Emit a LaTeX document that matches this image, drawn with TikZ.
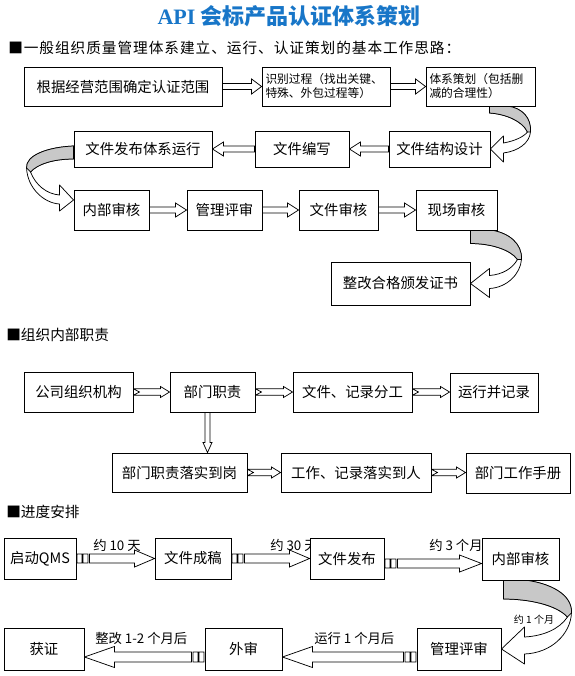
\documentclass[tikz,border=0pt]{standalone}
\usepackage{fontspec}
\setmainfont{Noto Sans CJK SC}
\newfontfamily\serifbf{Liberation Serif}
\usetikzlibrary{calc}
\pgfdeclarelayer{bg}
\pgfsetlayers{bg,main}
\definecolor{titleblue}{RGB}{24,118,200}
\definecolor{bandgrey}{RGB}{200,200,200}
\newcommand\pxfont[1]{\fontsize{#1}{#1}\selectfont}
\newcommand\mkbox[6]{\node[box, minimum width={(#4-#2)*0.75pt}, minimum height={(#5-#3)*0.75pt}] (#1) at ({(#2+#4)/2},{(#3+#5)/2}) {#6};}
% block arrow: from, to, half body, half head, head length, dir
\newcommand\blockarr[6]{%
\draw[arrline] let \p1=(#1), \p2=(#2) in
 (\x1,{\y1+#3*0.75pt}) -- ({\x2-(#6)*#5*0.75pt},{\y1+#3*0.75pt}) -- ({\x2-(#6)*#5*0.75pt},{\y1+#4*0.75pt}) -- (\x2,\y1) -- ({\x2-(#6)*#5*0.75pt},{\y1-#4*0.75pt}) -- ({\x2-(#6)*#5*0.75pt},{\y1-#3*0.75pt}) -- (\x1,{\y1-#3*0.75pt}) -- cycle;}
% notched arrow (rightwards)
\newcommand\notcharr[5]{%
\draw[arrline] let \p1=(#1), \p2=(#2) in
 (\x1,{\y1+#3*0.75pt}) -- ({\x2-#5*0.75pt},{\y1+#3*0.75pt}) -- ({\x2-#5*0.75pt},{\y1+#4*0.75pt}) -- (\x2,\y1) -- ({\x2-#5*0.75pt},{\y1-#4*0.75pt}) -- ({\x2-#5*0.75pt},{\y1-#3*0.75pt}) -- (\x1,{\y1-#3*0.75pt}) -- ({\x1+6*0.75pt},\y1) -- cycle;}
% striped arrow: from, to, half body, half head, head length, dir
\newcommand\stripearr[6]{%
\draw[arrline] let \p1=(#1), \p2=(#2) in
 ({\x1+(#6)*0.5*0.75pt},{\y1+#3*0.75pt}) rectangle ({\x1+(#6)*5.5*0.75pt},{\y1-#3*0.75pt})
 ({\x1+(#6)*6.5*0.75pt},{\y1+#3*0.75pt}) rectangle ({\x1+(#6)*11.5*0.75pt},{\y1-#3*0.75pt})
 ({\x1+(#6)*13*0.75pt},{\y1+#3*0.75pt}) -- ({\x2-(#6)*#5*0.75pt},{\y1+#3*0.75pt}) -- ({\x2-(#6)*#5*0.75pt},{\y1+#4*0.75pt}) -- (\x2,\y1) -- ({\x2-(#6)*#5*0.75pt},{\y1-#4*0.75pt}) -- ({\x2-(#6)*#5*0.75pt},{\y1-#3*0.75pt}) -- ({\x1+(#6)*13*0.75pt},{\y1-#3*0.75pt}) -- cycle;}
\begin{document}
\begin{tikzpicture}[x=0.75pt,y=-0.75pt,
  box/.style={draw, fill=white, line width=0.7pt, inner sep=0pt, font=\pxfont{10.8}},
  smallbox/.style={draw, fill=white, line width=0.7pt, inner xsep=2.6pt, inner ysep=0pt, align=left, font=\fontsize{8.8}{10.5}\selectfont},
  arrline/.style={draw, fill=white, line width=0.55pt, line join=miter},
  cband/.style={draw, fill=white, line width=0.55pt, line join=round},
  cgrey/.style={draw, fill=bandgrey, line width=0.55pt, line join=round},
  head/.style={anchor=west, inner sep=0pt, font=\pxfont{11}},
  lbl/.style={anchor=west, inner sep=0pt, font=\pxfont{10}}]
\useasboundingbox (0,0) rectangle (575,676);
\begin{pgfonlayer}{bg}
\fill[white] (0,0) rectangle (575,676);
\end{pgfonlayer}
% title and headings
\node[inner sep=0pt, text=titleblue, font=\bfseries\pxfont{16.5}] (title) at (289,16) {{\serifbf API} 会标产品认证体系策划};
\node[head, font=\pxfont{11}\addfontfeatures{LetterSpace=6.5}] (h1) at (8,48) {■一般组织质量管理体系建立、运行、认证策划的基本工作思路：};
\node[head] (h2) at (6,335) {■组织内部职责};
\node[head] (h3) at (6,512) {■进度安排};
% section 1
\mkbox{B1}{24}{67}{222}{106}{根据经营范围确定认证范围}
\node[smallbox, text width=90.75pt, minimum height=29.25pt] (B2) at (326,86.5) {识别过程（找出关键、\\特殊、外包过程等）};
\node[smallbox, text width=76.5pt, minimum height=29.25pt] (B3) at (480.5,86.5) {体系策划（包括删\\减的合理性）};
\mkbox{B4}{74}{131}{212}{167}{文件发布体系运行}
\mkbox{B5}{255}{131}{349}{167}{文件编写}
\mkbox{B6}{389}{131}{490}{167}{文件结构设计}
\mkbox{B7}{74}{190}{149}{230}{内部审核}
\mkbox{B8}{187}{190}{262}{230}{管理评审}
\mkbox{B9}{299}{190}{378}{230}{文件审核}
\mkbox{B10}{416}{190}{497}{230}{现场审核}
\mkbox{B11}{331}{262}{470}{305}{整改合格颁发证书}
% section 2
\mkbox{C1}{24}{372}{133}{412}{公司组织机构}
\mkbox{C2}{170}{372}{255}{412}{部门职责}
\mkbox{C3}{293}{372}{412}{412}{文件、记录分工}
\mkbox{C4}{450}{373}{538}{412}{运行并记录}
\mkbox{C5}{112}{453}{247}{492}{部门职责落实到岗}
\mkbox{C6}{281}{453}{431}{492}{工作、记录落实到人}
\mkbox{C7}{466}{453}{570}{493}{部门工作手册}
% section 3
\mkbox{D1}{4}{538}{76}{579}{启动QMS}
\mkbox{D2}{155}{538}{231}{579}{文件成稿}
\mkbox{D3}{310}{538}{384}{579}{文件发布}
\mkbox{D4}{482}{538}{559}{580}{内部审核}
\mkbox{D5}{417}{628}{501}{670}{管理评审}
\mkbox{D6}{205}{628}{282}{670}{外审}
\mkbox{D7}{4}{628}{84}{670}{获证}
\node[inner sep=0pt, font=\pxfont{7.5}] (L8) at (534,620) {约 1 个月};
\begin{pgfonlayer}{bg}
% section 1 arrows
\blockarr{B1.east}{B2.west}{3}{7.5}{10}{1}
\blockarr{B2.east}{B3.west}{3}{7.5}{10}{1}
\blockarr{B6.west}{B5.east}{3}{7}{11}{-1}
\blockarr{B5.west}{B4.east}{3}{7}{11}{-1}
\blockarr{B7.east}{B8.west}{3}{7}{11}{1}
\blockarr{B8.east}{B9.west}{3}{7}{11}{1}
\blockarr{B9.east}{B10.west}{3}{7}{11}{1}
\begin{scope}[shift={(B6.east)}]
\draw[cband] (-1,-43) -- (17,-43) .. controls (32,-41) and (41,-31) .. (40,-17) .. controls (39,-6) and (28,2) .. (13,4) -- (13,13) -- (0,0) -- (13,-13) -- (13,-6) .. controls (24,-8) and (33,-12) .. (37,-17) .. controls (32,-28) and (15,-35) .. (-1,-36) -- cycle;
\draw[cgrey] (-1,-43) -- (17,-43) .. controls (32,-41) and (41,-31) .. (40,-17) -- (37,-17) .. controls (32,-28) and (15,-35) .. (-1,-36) -- cycle;
\end{scope}
\begin{scope}[shift={($(B7.west)+(0,-10)$)}]
\draw[cband] (0,-54) .. controls (-25,-53) and (-48,-45) .. (-47,-32) .. controls (-46,-12) and (-30,3) .. (-14,4) -- (-14,11) -- (0,0) -- (-14,-15) -- (-14,-5) .. controls (-27,-6) and (-38,-15) .. (-43,-28) .. controls (-36,-36) and (-20,-41) .. (0,-41) -- cycle;
\draw[cgrey] (0,-54) .. controls (-25,-53) and (-48,-45) .. (-47,-32) -- (-43,-28) .. controls (-36,-36) and (-20,-41) .. (0,-41) -- cycle;
\end{scope}
\begin{scope}[shift={(B11.east)}]
\draw[cband] (0,-53.5) -- (20,-53.5) .. controls (38,-51) and (52,-40) .. (51,-24) .. controls (50,-10) and (37,4) .. (19,5) -- (19,14) -- (0,0) -- (19,-15) -- (19,-8) .. controls (32,-9) and (42,-15) .. (47,-24) .. controls (40,-34) and (20,-40) .. (0,-40) -- cycle;
\draw[cgrey] (0,-53.5) -- (20,-53.5) .. controls (38,-51) and (52,-40) .. (51,-24) -- (47,-24) .. controls (40,-34) and (20,-40) .. (0,-40) -- cycle;
\end{scope}
% section 2 arrows
\notcharr{C1.east}{C2.west}{3.2}{5.5}{9}
\notcharr{C2.east}{C3.west}{3.2}{5.5}{9}
\notcharr{C3.east}{C4.west}{3.2}{5.5}{9}
\notcharr{C5.east}{C6.west}{3.2}{5.5}{9}
\notcharr{C6.east}{C7.west}{3.2}{5.5}{9}
\draw[arrline] let \p1=($(C2.south)+(-5,0)$), \p2=(C5.north) in
 ({\x1-2.5*0.75pt},\y1) -- ({\x1-2.5*0.75pt},{\y2+10*0.75pt}) -- ({\x1-4.5*0.75pt},{\y2+10*0.75pt}) -- (\x1,\y2) -- ({\x1+4.5*0.75pt},{\y2+10*0.75pt}) -- ({\x1+2.5*0.75pt},{\y2+10*0.75pt}) -- ({\x1+2.5*0.75pt},\y1) -- cycle;
% section 3 arrows and labels
\node[lbl] (L1) at (93,545) {约 10 天};
\node[lbl] (L2) at (270,545) {约 30 天};
\node[lbl] (L3) at (429,545) {约 3 个月};
\node[lbl] (L4) at (314,638) {运行 1 个月后};
\node[lbl] (L5) at (95,638) {整改 1-2 个月后};
\stripearr{D1.east}{D2.west}{4.5}{8.5}{20}{1}
\stripearr{D2.east}{D3.west}{4.5}{8.5}{20}{1}
\stripearr{$(D3.east)+(0,5)$}{D4.west}{4.5}{8.5}{22}{1}
\stripearr{$(D5.west)+(0,8)$}{D6.east}{5}{10.5}{30}{-1}
\stripearr{$(D6.west)+(0,8)$}{D7.east}{5}{10.5}{30}{-1}
\begin{scope}[shift={(D5.east)}]
\draw[cband] (2,-69) -- (23,-69) .. controls (48,-66) and (71,-55) .. (70,-36) .. controls (69,-15) and (50,4) .. (23,5) -- (23,15) -- (0,0) -- (23,-22) -- (23,-12) .. controls (42,-13) and (58,-20) .. (66,-32) .. controls (55,-44) and (28,-50) .. (2,-50) -- cycle;
\draw[cgrey] (2,-69) -- (23,-69) .. controls (48,-66) and (71,-55) .. (70,-36) -- (66,-32) .. controls (55,-44) and (28,-50) .. (2,-50) -- cycle;
\end{scope}
\end{pgfonlayer}
\end{tikzpicture}
\end{document}
